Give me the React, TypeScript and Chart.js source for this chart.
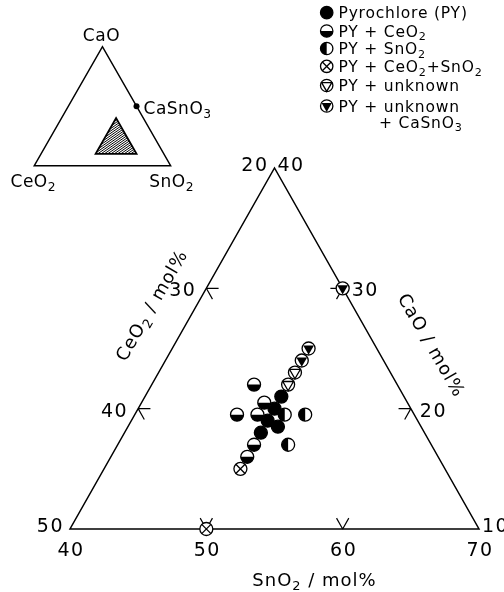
import React, { useEffect, useRef } from "react";
import { Chart, registerables } from "chart.js";

Chart.register(...registerables);

const FONT = '"DejaVu Sans", "Liberation Sans", sans-serif';

// Compositions in mol% (CeO2 = 100 - CaO - SnO2)
const pyCaO = [18, 18.5, 19, 20, 21];
const pySnO2 = [50, 51, 50, 50, 50];
const ceo2CaO = [16, 17, 19.5, 19.5, 20.5, 22];
const ceo2SnO2 = [50, 50, 47.5, 49, 49, 47.5];
const sno2CaO = [17, 19.5, 19.5];
const sno2SnO2 = [52.5, 51, 52.5];
const bothCaO = [10, 15];
const bothSnO2 = [50, 50];
const unkCaO = [22, 23];
const unkSnO2 = [50, 50];
const unkCaCaO = [24, 25, 30];
const unkCaSnO2 = [50, 50, 50];

// axis ticks / labels (mol%)
const sno2TickMarks = [50, 60];
const ceo2TickMarks = [40, 30];
const caoTickMarks = [20, 30];
const sno2Labels = [40, 50, 60, 70];
const ceo2Labels = [50, 40, 30, 20];
const caoLabels = [10, 20, 30, 40];

// sub-triangle window
const CAO_MIN = 10;
const SNO2_MIN = 40;
const SPAN = 30;

// inset (whole ternary) window in chart units
const INSET_X = -2.62;
const INSET_Y = 30.19;
const INSET_W = 10.0;
const INSET_H = 9.89;
const CASNO3 = { cao: 50, sno2: 50 };

const X_MIN = -5.1345;
const X_MAX = 31.834;
const Y_MIN = -5.236;
const Y_MAX = 43.96;

type Kind = "py" | "ceo2" | "sno2" | "both" | "unk" | "unkca";
type Seg = { t: string; sub?: boolean };

const toXY = (cao: number, sno2: number) => ({
  x: sno2 - SNO2_MIN + (cao - CAO_MIN) / 2,
  y: cao - CAO_MIN,
});
const insetXY = (cao: number, sno2: number) => ({
  x: INSET_X + INSET_W * (sno2 / 100 + cao / 200),
  y: INSET_Y + INSET_H * (cao / 100),
});

const R = 6.5;

function drawMarker(ctx: CanvasRenderingContext2D, kind: Kind, x: number, y: number, r: number) {
  ctx.save();
  ctx.lineWidth = 1.3;
  ctx.strokeStyle = "#000";
  ctx.beginPath();
  ctx.arc(x, y, r, 0, Math.PI * 2);
  ctx.fillStyle = kind === "py" ? "#000" : "#fff";
  ctx.fill();
  ctx.fillStyle = "#000";
  if (kind === "ceo2") {
    ctx.beginPath();
    ctx.arc(x, y, r, 0, Math.PI);
    ctx.closePath();
    ctx.fill();
  } else if (kind === "sno2") {
    ctx.beginPath();
    ctx.arc(x, y, r, Math.PI / 2, (3 * Math.PI) / 2);
    ctx.closePath();
    ctx.fill();
  } else if (kind === "both") {
    const d = r * 0.707;
    ctx.beginPath();
    ctx.moveTo(x - d, y - d);
    ctx.lineTo(x + d, y + d);
    ctx.moveTo(x + d, y - d);
    ctx.lineTo(x - d, y + d);
    ctx.stroke();
  } else if (kind === "unk" || kind === "unkca") {
    const rr = r * 0.95;
    ctx.beginPath();
    ctx.moveTo(x - 0.866 * rr, y - 0.5 * rr);
    ctx.lineTo(x + 0.866 * rr, y - 0.5 * rr);
    ctx.lineTo(x, y + rr);
    ctx.closePath();
    if (kind === "unkca") ctx.fill();
    else ctx.stroke();
  }
  ctx.beginPath();
  ctx.arc(x, y, r, 0, Math.PI * 2);
  ctx.stroke();
  ctx.restore();
}

function drawRich(
  ctx: CanvasRenderingContext2D,
  segs: Seg[],
  x: number,
  y: number,
  size: number,
  align: "left" | "center" | "right",
  spacing = 0
) {
  const subSize = size * 0.72;
  ctx.save();
  (ctx as any).letterSpacing = spacing + "px";
  ctx.textBaseline = "alphabetic";
  ctx.textAlign = "left";
  ctx.fillStyle = "#000";
  let w = 0;
  const widths = segs.map((s) => {
    ctx.font = `${s.sub ? subSize : size}px ${FONT}`;
    const m = ctx.measureText(s.t).width;
    w += m;
    return m;
  });
  let cx = align === "left" ? x : align === "center" ? x - w / 2 : x - w;
  const base = y + size * 0.365;
  segs.forEach((s, i) => {
    ctx.font = `${s.sub ? subSize : size}px ${FONT}`;
    ctx.fillText(s.t, cx, s.sub ? base + size * 0.24 : base);
    cx += widths[i];
  });
  ctx.restore();
}

const legendKinds: Kind[] = ["py", "ceo2", "sno2", "both", "unk", "unkca"];
const legendTexts: Seg[][] = [
  [{ t: "Pyrochlore (PY)" }],
  [{ t: "PY + CeO" }, { t: "2", sub: true }],
  [{ t: "PY + SnO" }, { t: "2", sub: true }],
  [{ t: "PY + CeO" }, { t: "2", sub: true }, { t: "+SnO" }, { t: "2", sub: true }],
  [{ t: "PY + unknown" }],
  [{ t: "PY + unknown" }],
];
const legendY = [12.7, 31, 48.5, 66.3, 85.5, 106];

const ternaryPlugin = {
  id: "ternary",
  beforeDatasetsDraw(chart: any) {
    const ctx: CanvasRenderingContext2D = chart.ctx;
    const sx = chart.scales.x;
    const sy = chart.scales.y;
    const P = (c: number, s: number) => {
      const q = toXY(c, s);
      return [sx.getPixelForValue(q.x), sy.getPixelForValue(q.y)];
    };
    ctx.save();
    ctx.strokeStyle = "#000";
    ctx.lineWidth = 1.5;
    ctx.lineJoin = "miter";
    const a = P(CAO_MIN, SNO2_MIN);
    const b = P(CAO_MIN, SNO2_MIN + SPAN);
    const t = P(CAO_MIN + SPAN, SNO2_MIN);
    ctx.beginPath();
    ctx.moveTo(a[0], a[1]);
    ctx.lineTo(b[0], b[1]);
    ctx.lineTo(t[0], t[1]);
    ctx.closePath();
    ctx.stroke();

    // tick marks (two grid directions into the triangle)
    const tl = 0.9;
    ctx.lineWidth = 1.2;
    const arm = (c: number, s: number, dc: number, ds: number) => {
      const p0 = P(c, s);
      const p1 = P(c + dc, s + ds);
      ctx.moveTo(p0[0], p0[1]);
      ctx.lineTo(p1[0], p1[1]);
    };
    ctx.beginPath();
    sno2TickMarks.forEach((v) => {
      arm(CAO_MIN, v, tl, 0);
      arm(CAO_MIN, v, tl, -tl);
    });
    ceo2TickMarks.forEach((v) => {
      const c = 100 - SNO2_MIN - v;
      arm(c, SNO2_MIN, 0, tl);
      arm(c, SNO2_MIN, -tl, tl);
    });
    caoTickMarks.forEach((v) => {
      const s = 100 - (100 - SNO2_MIN - CAO_MIN - SPAN) - v;
      arm(v, s, 0, -tl);
      arm(v, s, -tl, 0);
    });
    ctx.stroke();
    ctx.restore();
  },
  afterDatasetsDraw(chart: any) {
    const ctx: CanvasRenderingContext2D = chart.ctx;
    chart.data.datasets.forEach((ds: any, i: number) => {
      const meta = chart.getDatasetMeta(i);
      meta.data.forEach((el: any) => drawMarker(ctx, ds.marker, el.x, el.y, R));
    });
  },
  afterDraw(chart: any) {
    const ctx: CanvasRenderingContext2D = chart.ctx;
    const sx = chart.scales.x;
    const sy = chart.scales.y;
    const P = (c: number, s: number) => {
      const q = toXY(c, s);
      return [sx.getPixelForValue(q.x), sy.getPixelForValue(q.y)];
    };
    const Q = (c: number, s: number) => {
      const q = insetXY(c, s);
      return [sx.getPixelForValue(q.x), sy.getPixelForValue(q.y)];
    };
    const tickSize = 19;
    const sp = 1.5;
    // bottom SnO2 labels
    sno2Labels.forEach((v) => {
      const p = P(CAO_MIN, v);
      drawRich(ctx, [{ t: String(v) }], p[0] + 1, p[1] + 20.5, tickSize, "center", sp);
    });
    // left CeO2 labels
    ceo2Labels.forEach((v, i) => {
      const p = P(100 - SNO2_MIN - v, SNO2_MIN);
      const vertex = i === 0 || i === ceo2Labels.length - 1;
      drawRich(ctx, [{ t: String(v) }], p[0] - (vertex ? 6 : 10), p[1] + (vertex ? -4 : 1), tickSize, "right", sp);
    });
    // right CaO labels
    caoLabels.forEach((v, i) => {
      const p = P(v, 100 - 20 - v);
      const vertex = i === 0 || i === caoLabels.length - 1;
      drawRich(ctx, [{ t: String(v) }], p[0] + (vertex ? 3 : 9), p[1] + (vertex ? -4 : 1), tickSize, "left", sp);
    });
    // axis titles
    const bp = P(CAO_MIN, SNO2_MIN + SPAN / 2);
    drawRich(
      ctx,
      [{ t: "SnO" }, { t: "2", sub: true }, { t: " / mol%" }],
      bp[0] + 40,
      bp[1] + 50,
      18,
      "center",
      1
    );
    ctx.save();
    ctx.translate(151, 305);
    ctx.rotate(-Math.PI / 3);
    drawRich(ctx, [{ t: "CeO" }, { t: "2", sub: true }, { t: " / mol%" }], 0, 0, 18, "center", 1);
    ctx.restore();
    ctx.save();
    ctx.translate(432, 345);
    ctx.rotate(Math.PI / 3);
    drawRich(ctx, [{ t: "CaO / mol%" }], 0, 0, 18, "center", 1);
    ctx.restore();

    // inset ternary
    ctx.save();
    ctx.strokeStyle = "#000";
    ctx.lineWidth = 1.5;
    const ia = Q(0, 0);
    const ib = Q(0, 100);
    const it = Q(100, 0);
    ctx.beginPath();
    ctx.moveTo(ia[0], ia[1]);
    ctx.lineTo(ib[0], ib[1]);
    ctx.lineTo(it[0], it[1]);
    ctx.closePath();
    ctx.stroke();
    // hatched sub-region
    const ha = Q(CAO_MIN, SNO2_MIN);
    const hb = Q(CAO_MIN, SNO2_MIN + SPAN);
    const ht = Q(CAO_MIN + SPAN, SNO2_MIN);
    ctx.save();
    ctx.beginPath();
    ctx.moveTo(ha[0], ha[1]);
    ctx.lineTo(hb[0], hb[1]);
    ctx.lineTo(ht[0], ht[1]);
    ctx.closePath();
    ctx.clip();
    ctx.lineWidth = 1;
    ctx.beginPath();
    for (let k = -70; k < 70; k += 3.3) {
      ctx.moveTo(ha[0] + k, ha[1] + 2);
      ctx.lineTo(ha[0] + k + 70, ha[1] + 2 - 49);
    }
    ctx.stroke();
    ctx.restore();
    ctx.lineWidth = 1.8;
    ctx.beginPath();
    ctx.moveTo(ha[0], ha[1]);
    ctx.lineTo(hb[0], hb[1]);
    ctx.lineTo(ht[0], ht[1]);
    ctx.closePath();
    ctx.stroke();
    // CaSnO3 dot
    const cs = Q(CASNO3.cao, CASNO3.sno2);
    ctx.beginPath();
    ctx.arc(cs[0], cs[1], 3, 0, Math.PI * 2);
    ctx.fillStyle = "#000";
    ctx.fill();
    ctx.restore();
    drawRich(ctx, [{ t: "CaO" }], it[0] - 1, it[1] - 12, 17, "center", 0.5);
    drawRich(ctx, [{ t: "CeO" }, { t: "2", sub: true }], ia[0] - 1, ia[1] + 15.5, 17, "center", 0.5);
    drawRich(ctx, [{ t: "SnO" }, { t: "2", sub: true }], ib[0] + 1, ib[1] + 15.5, 17, "center", 0.5);
    drawRich(ctx, [{ t: "CaSnO" }, { t: "3", sub: true }], cs[0] + 7, cs[1] + 1.5, 17, "left", 0.5);

    // legend
    legendKinds.forEach((k, i) => {
      drawMarker(ctx, k, 326.7, legendY[i], 6.2);
      drawRich(ctx, legendTexts[i], 338.5, legendY[i], 15.5, "left", 0.8);
    });
    drawRich(ctx, [{ t: "+ CaSnO" }, { t: "3", sub: true }], 379, 122, 15.5, "left", 0.8);
  },
};

export default function App() {
  const ref = useRef<HTMLCanvasElement>(null);
  useEffect(() => {
    const mk = (cao: number[], sno2: number[]) => cao.map((c, i) => toXY(c, sno2[i]));
    const common = { pointRadius: 0, pointHoverRadius: 0, showLine: false };
    const chart = new Chart(ref.current as HTMLCanvasElement, {
      type: "scatter",
      data: {
        datasets: [
          { label: "Pyrochlore (PY)", data: mk(pyCaO, pySnO2), marker: "py", ...common } as any,
          { label: "PY + CeO2", data: mk(ceo2CaO, ceo2SnO2), marker: "ceo2", ...common } as any,
          { label: "PY + SnO2", data: mk(sno2CaO, sno2SnO2), marker: "sno2", ...common } as any,
          { label: "PY + CeO2+SnO2", data: mk(bothCaO, bothSnO2), marker: "both", ...common } as any,
          { label: "PY + unknown", data: mk(unkCaO, unkSnO2), marker: "unk", ...common } as any,
          { label: "PY + unknown + CaSnO3", data: mk(unkCaCaO, unkCaSnO2), marker: "unkca", ...common } as any,
        ],
      },
      options: {
        animation: false,
        responsive: true,
        maintainAspectRatio: false,
        events: [],
        layout: { padding: 0 },
        plugins: { legend: { display: false }, tooltip: { enabled: false } },
        scales: {
          x: { type: "linear", min: X_MIN, max: X_MAX, display: false },
          y: { type: "linear", min: Y_MIN, max: Y_MAX, display: false },
        },
      },
      plugins: [ternaryPlugin],
    });
    return () => chart.destroy();
  }, []);
  return (
    <div style={{ position: "fixed", left: 0, top: 0, width: 504, height: 592, background: "#fff" }}>
      <canvas ref={ref} />
    </div>
  );
}
